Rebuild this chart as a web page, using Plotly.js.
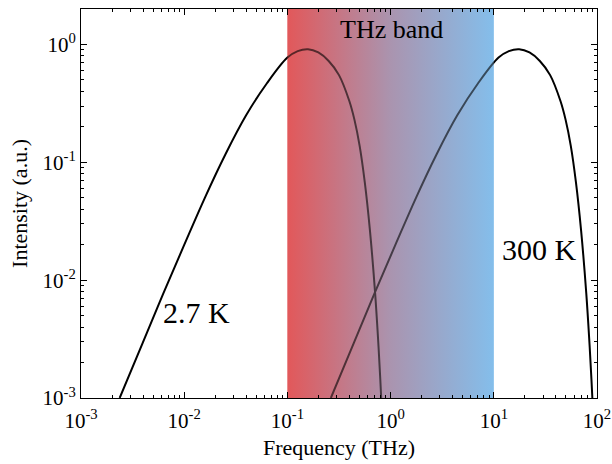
<!DOCTYPE html>
<html>
<head>
<meta charset="utf-8">
<script src="https://cdn.plot.ly/plotly-3.0.1.min.js"></script>
<style>
  html, body { margin: 0; padding: 0; background: #ffffff; }
  #chart { width: 612px; height: 464px; }
</style>
</head>
<body>
<div id="chart"></div>
<script>
// Normalised blackbody spectra: cosmic background (2.7 K) and room temperature (300 K)
const freq2p7K = [0.00237, 0.003981, 0.006310, 0.01, 0.01585, 0.02512, 0.03981, 0.06310, 0.1, 0.1259,
                  0.1585, 0.1995, 0.2512, 0.3162, 0.3981, 0.4467, 0.5012, 0.5623, 0.6310, 0.7079,
                  0.7586, 0.7943, 0.8110];
const int2p7K  = [0.00100, 0.002965, 0.007798, 0.01991, 0.05000, 0.1172, 0.2506, 0.4667, 0.7745, 0.8790,
                  0.9120, 0.8551, 0.7244, 0.5495, 0.3311, 0.2291, 0.1380, 0.06761, 0.02630, 0.007762,
                  0.003020, 0.001445, 0.00100];

const freq300K = [0.2637, 0.4426, 0.7015, 1.112, 1.762, 2.793, 4.426, 7.015, 11.12, 14.00,
                  17.62, 22.18, 27.93, 35.16, 44.26, 49.66, 55.72, 62.52, 70.15, 78.70,
                  84.33, 88.31, 90.16];
const int300K  = [0.00100, 0.002965, 0.007798, 0.01991, 0.05000, 0.1172, 0.2506, 0.4667, 0.7745, 0.8790,
                  0.9120, 0.8551, 0.7244, 0.5495, 0.3311, 0.2291, 0.1380, 0.06761, 0.02630, 0.007762,
                  0.003020, 0.001445, 0.00100];

// THz band limits and its colour ramp (low to high frequency)
const bandLimits = [0.1, 10];
const bandColors = [[0, 'rgb(226,88,90)'], [0.5, 'rgb(170,148,175)'], [1, 'rgb(132,190,235)']];

// Tick labels
const xTickVals = [1e-3, 1e-2, 1e-1, 1e0, 1e1, 1e2];
const xTickText = ['10<sup>-3</sup>', '10<sup>-2</sup>', '10<sup>-1</sup>', '10<sup>0</sup>', '10<sup>1</sup>', '10<sup>2</sup>'];
const yTickVals = [1e-3, 1e-2, 1e-1, 1e0];
const yTickText = ['10<sup>-3</sup>', '10<sup>-2</sup>', '10<sup>-1</sup>', '10<sup>0</sup>'];

const yMin = 1e-3, yMax = 2;
const FONT = '"Liberation Serif", "Times New Roman", serif';

function bandTrace(opacity) {
  return {
    type: 'scatter', mode: 'lines',
    x: [bandLimits[0], bandLimits[1], bandLimits[1], bandLimits[0], bandLimits[0]],
    y: [yMin, yMin, yMax, yMax, yMin],
    fill: 'toself',
    fillgradient: { type: 'horizontal', colorscale: bandColors },
    line: { width: 0 },
    opacity: opacity,
    hoverinfo: 'skip', showlegend: false
  };
}

function curve(x, y) {
  return {
    type: 'scatter', mode: 'lines', x: x, y: y,
    line: { color: '#000000', width: 2, shape: 'spline', smoothing: 1 },
    hoverinfo: 'skip', showlegend: false
  };
}

const data = [
  bandTrace(1),
  curve(freq2p7K, int2p7K),
  curve(freq300K, int300K),
  bandTrace(0.4)   // tints the curves where they cross the band
];

const axisCommon = {
  type: 'log',
  showline: true, linecolor: '#000000', linewidth: 1,
  mirror: 'allticks',
  ticks: 'inside', ticklen: 6, tickcolor: '#000000', tickwidth: 1,
  minor: { ticks: 'inside', ticklen: 3, tickcolor: '#000000', dtick: 'D1', showgrid: false },
  showgrid: false, zeroline: false,
  tickfont: { family: FONT, size: 21, color: '#000000' },
  layer: 'above traces'
};

const layout = {
  width: 612, height: 464,
  margin: { l: 81, r: 15, t: 9, b: 66 },
  paper_bgcolor: '#ffffff', plot_bgcolor: '#ffffff',
  font: { family: FONT, color: '#000000' },
  showlegend: false,
  xaxis: Object.assign({}, axisCommon, {
    range: [Math.log10(1e-3), Math.log10(1e2)],
    tickmode: 'array', tickvals: xTickVals, ticktext: xTickText,
    ticklabelstandoff: 4,
    title: { text: 'Frequency (THz)', font: { family: FONT, size: 22, color: '#000000' }, standoff: 7 }
  }),
  yaxis: Object.assign({}, axisCommon, {
    range: [Math.log10(yMin), Math.log10(yMax)],
    tickmode: 'array', tickvals: yTickVals, ticktext: yTickText,
    title: { text: 'Intensity (a.u.)', font: { family: FONT, size: 22, color: '#000000' }, standoff: 8 }
  }),
  annotations: [
    { x: Math.log10(1.03), y: Math.log10(1.34), xref: 'x', yref: 'y', text: 'THz band', showarrow: false,
      font: { family: FONT, size: 26, color: '#000000' } },
    { x: Math.log10(0.0133), y: Math.log10(0.00528), xref: 'x', yref: 'y', text: '2.7 K', showarrow: false,
      font: { family: FONT, size: 30, color: '#000000' } },
    { x: Math.log10(28), y: Math.log10(0.0181), xref: 'x', yref: 'y', text: '300 K', showarrow: false,
      font: { family: FONT, size: 30, color: '#000000' } }
  ]
};

Plotly.newPlot('chart', data, layout, { staticPlot: true, displayModeBar: false });
</script>
</body>
</html>
